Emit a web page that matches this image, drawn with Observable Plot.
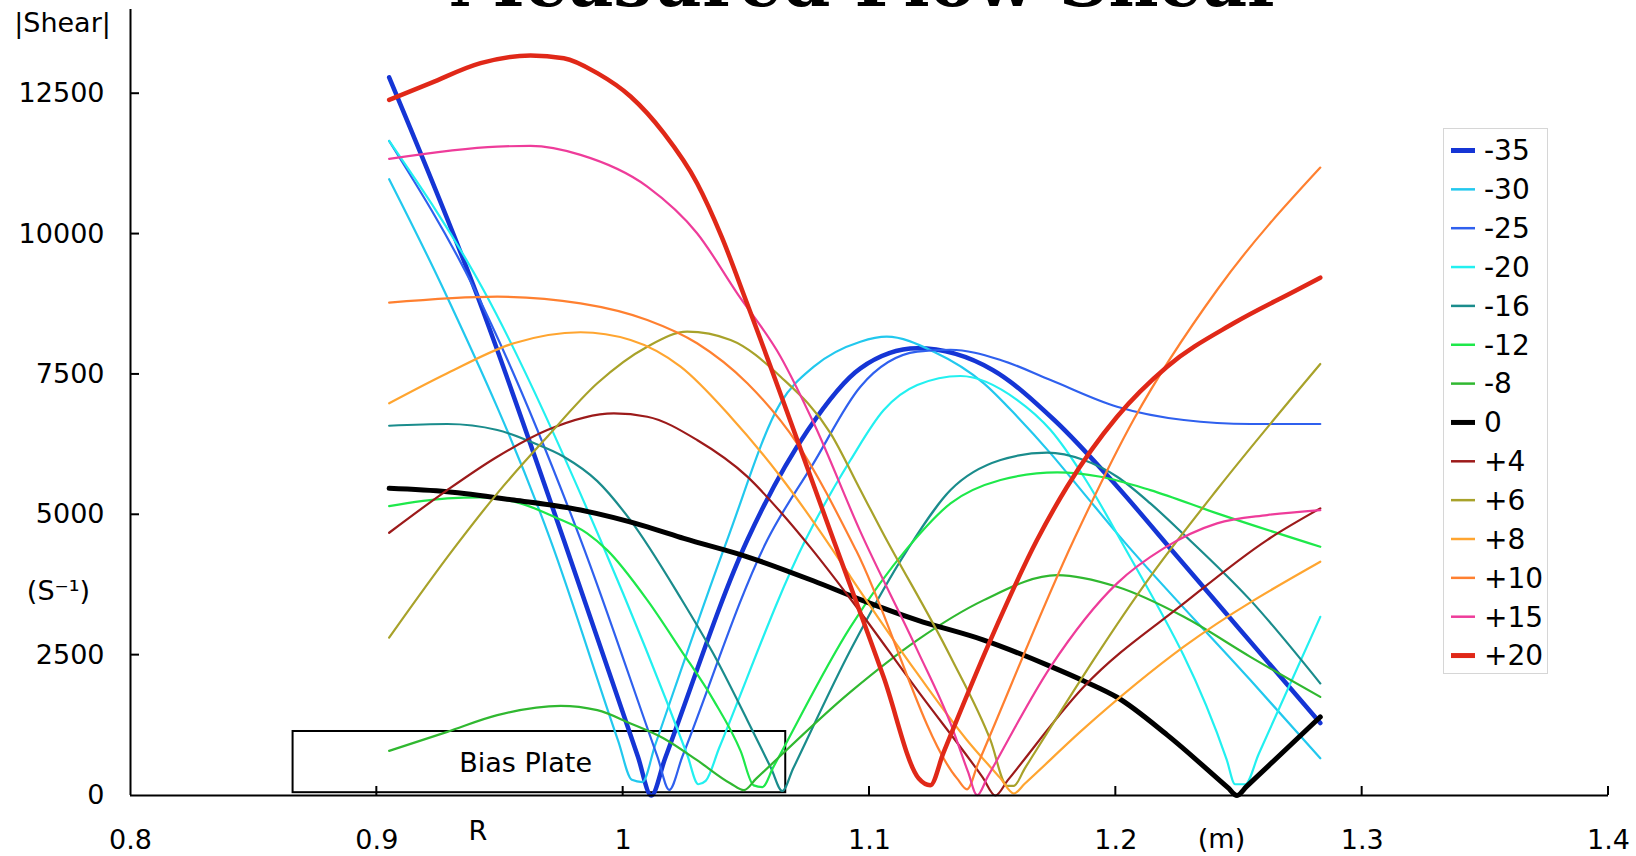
<!DOCTYPE html>
<html><head><meta charset="utf-8">
<script src="https://cdn.jsdelivr.net/npm/d3@7"></script>
<script src="https://cdn.jsdelivr.net/npm/@observablehq/plot@0.6"></script>
<style>
html,body{margin:0;padding:0;background:#fff;overflow:hidden}
#wrap{position:relative;width:1636px;height:856px;background:#fff}
#wrap svg{display:block}
</style></head>
<body><div id="wrap"></div>
<script>
// ---------- data ----------
const titleText = "Measured Flow Shear";
const seriesNames = ["-35","-30","-25","-20","-16","-12","-8","0","+4","+6","+8","+10","+15","+20"];
const xTickValues = [0.9, 1, 1.1, 1.2, 1.3, 1.4];
const xLabelValues = [0.8, 0.9, 1, 1.1, 1.2, 1.3, 1.4];
const xTickLabels = ["0.8","0.9","1","1.1","1.2","1.3","1.4"];
const yTickValues = [2500, 5000, 7500, 10000, 12500];
const yLabelValues = [0, 2500, 5000, 7500, 10000, 12500];
const yTickLabels = ["0","2500","5000","7500","10000","12500"];

const m35 = [[0.905,12790],[0.9408,8900],[0.9759,4550],[1.006,690],[1.0114,0],[1.017,660],[1.0504,4550],[1.075,6510],[1.0963,7609],[1.1194,7965],[1.15,7579],[1.175,6688],[1.2,5530],[1.225,4252],[1.25,2976],[1.283,1290]];
const m30 = [[0.905,10977],[0.9272,9004],[0.9705,4550],[0.998,970],[1.0035,280],[1.0078,240],[1.013,900],[1.0422,4550],[1.0639,6994],[1.0774,7638],[1.0963,8083],[1.107,8173],[1.1261,7905],[1.1464,7342],[1.16,6747],[1.1735,6094],[1.187,5382],[1.2005,4669],[1.2546,2057],[1.283,664]];
const m25 = [[0.905,11658],[0.9398,9004],[0.9828,4550],[1.014,680],[1.0187,100],[1.024,690],[1.0585,4550],[1.0773,5921],[1.0963,7282],[1.1194,7905],[1.1329,7940],[1.1532,7757],[1.1735,7400],[1.2005,6925],[1.2276,6688],[1.2546,6617],[1.283,6617]];
const m20 = [[0.905,11658],[0.9433,9004],[0.9908,4550],[1.026,726],[1.0305,200],[1.0335,260],[1.039,850],[1.074,4550],[1.0923,5975],[1.1058,6866],[1.1194,7311],[1.1369,7472],[1.16,7044],[1.1735,6510],[1.187,5678],[1.2019,4550],[1.245,640],[1.2484,200],[1.2525,200],[1.258,740],[1.283,3183]];
const m16 = [[0.905,6586],[0.9286,6617],[0.9489,6510],[0.9624,6301],[0.9759,6034],[0.9895,5600],[1.003,4900],[1.0233,3520],[1.0368,2510],[1.0504,1342],[1.06,490],[1.0646,80],[1.069,480],[1.0923,2590],[1.1153,4371],[1.1329,5440],[1.1532,5975],[1.1721,6106],[1.187,5975],[1.2005,5678],[1.214,5203],[1.2276,4650],[1.2546,3480],[1.283,1996]];
const m12 = [[0.905,5155],[0.9286,5292],[0.9421,5310],[0.9583,5203],[0.9719,4965],[0.9854,4669],[0.9935,4371],[1.0098,3480],[1.0233,2600],[1.0368,1690],[1.0477,790],[1.053,180],[1.0565,150],[1.061,510],[1.0923,3004],[1.1153,4401],[1.1329,5203],[1.1532,5619],[1.1762,5756],[1.1938,5678],[1.214,5440],[1.2411,5025],[1.283,4430]];
const m8 = [[0.905,795],[0.9286,1134],[0.9489,1431],[0.9746,1597],[0.9895,1520],[1.003,1283],[1.0165,1016],[1.03,629],[1.0436,214],[1.049,95],[1.054,300],[1.0923,1846],[1.1194,2768],[1.1464,3480],[1.1762,3926],[1.2005,3717],[1.2276,3183],[1.2546,2470],[1.283,1757]];
const z0 = [[0.905,5471],[0.9286,5410],[0.9556,5262],[0.9827,5084],[1.0098,4786],[1.0246,4580],[1.0504,4252],[1.0774,3820],[1.0963,3490],[1.1194,3124],[1.1464,2768],[1.1735,2300],[1.187,2040],[1.2005,1750],[1.2208,1080],[1.2455,140],[1.2492,0],[1.253,157],[1.283,1400]];
const p4 = [[0.905,4680],[0.9286,5440],[0.9489,6034],[0.9692,6510],[0.9962,6807],[1.0098,6747],[1.03,6332],[1.0504,5680],[1.0639,5050],[1.076,4420],[1.0923,3500],[1.12,1840],[1.146,320],[1.1511,0],[1.156,264],[1.187,1936],[1.2276,3421],[1.2614,4550],[1.283,5114]];
const p6 = [[0.905,2812],[0.9313,4401],[0.9489,5382],[0.9692,6390],[0.9895,7342],[1.0098,7994],[1.026,8261],[1.0436,8113],[1.0639,7459],[1.0842,6451],[1.0963,5440],[1.105,4713],[1.1329,2470],[1.1491,985],[1.1559,172],[1.1586,172],[1.163,480],[1.214,3900],[1.2411,5450],[1.283,7686]];
const p8 = [[0.905,6985],[0.9286,7520],[0.9556,8055],[0.9827,8251],[1.003,8113],[1.0233,7638],[1.0436,6747],[1.0639,5678],[1.0842,4430],[1.0923,3896],[1.1194,2174],[1.1396,985],[1.153,315],[1.1586,36],[1.163,210],[1.187,1190],[1.2276,2650],[1.283,4163]];
const p10 = [[0.905,8778],[0.9489,8885],[0.9827,8767],[1.0098,8470],[1.03,8055],[1.0504,7342],[1.0706,6273],[1.0945,4371],[1.1356,300],[1.1396,110],[1.144,560],[1.1829,4550],[1.2073,6700],[1.2411,9004],[1.283,11184]];
const p15 = [[0.905,11339],[0.9489,11558],[0.9624,11570],[0.9827,11410],[1.0098,10845],[1.03,10015],[1.0463,8945],[1.0639,7816],[1.0774,6629],[1.0963,4700],[1.1194,2589],[1.1329,1283],[1.14,420],[1.1437,5],[1.148,336],[1.1735,2292],[1.2005,3778],[1.2194,4401],[1.2411,4847],[1.2614,4995],[1.283,5084]];
const p20 = [[0.905,12390],[0.9218,12688],[0.9421,13044],[0.9624,13180],[0.9759,13133],[0.9895,12866],[1.003,12450],[1.0165,11797],[1.03,10906],[1.04,9950],[1.05,8800],[1.0869,4371],[1.1058,2100],[1.12,303],[1.1247,184],[1.13,760],[1.1491,2768],[1.168,4550],[1.1802,5499],[1.2005,6747],[1.2208,7638],[1.2478,8411],[1.2735,9004],[1.283,9224]];
const seriesData = [m35, m30, m25, m20, m16, m12, m8, z0, p4, p6, p8, p10, p15, p20];

const biasPlate = [{x1: 0.866, x2: 1.066, y1: 50, y2: 1140}];
const biasLabel = [{x: 0.9604, y: 580, text: "Bias Plate"}];
const axisLabels = {yTop: "|Shear|", yUnit: "(S\u207B\u00B9)", xName: "R", xUnit: "(m)"};

// ---------- styles ----------
const seriesColors = ["#1535d5","#22c8ee","#2f60ee","#22f0f0","#1a8c8c","#1ee84a","#30b830","#000000","#9c1a1a","#a8a22a","#ffa530","#ff8030","#ee3c9a","#e02818"];
const seriesWidths = [4.5,2.2,2.2,2.2,2.2,2.2,2.2,5,2.2,2.2,2.2,2.2,2.2,4.5];
const FONT = "DejaVu Sans";
const FS = 27;
const TICK = 9;

const rows = seriesData.flatMap((pts, i) => pts.map(([x, y]) => ({series: seriesNames[i], x, y})));
const fmtX = d => xTickLabels[xLabelValues.indexOf(d)];
const fmtY = d => yTickLabels[yLabelValues.indexOf(d)];

const plot = Plot.plot({
  width: 1636, height: 856,
  marginLeft: 130, marginRight: 28, marginTop: 9, marginBottom: 61,
  x: {domain: [0.8, 1.4], axis: null},
  y: {domain: [0, 14000], axis: null},
  style: {fontFamily: FONT, fontSize: FS + "px", background: "white", color: "black"},
  marks: [
    Plot.rect(biasPlate, {x1: "x1", x2: "x2", y1: "y1", y2: "y2", fill: "none", stroke: "black", strokeWidth: 2}),
    Plot.text(biasLabel, {x: "x", y: "y", text: "text", fontSize: FS, fill: "black"}),
    ...seriesNames.map((name, i) => Plot.line(rows.filter(r => r.series === name), {
      x: "x", y: "y", stroke: seriesColors[i], strokeWidth: seriesWidths[i], curve: "monotone-x", strokeLinejoin: "round"
    })),
    Plot.ruleY([0], {x1: 0.8, x2: 1.4, stroke: "black", strokeWidth: 2}),
    Plot.ruleX([0.8], {y1: 0, y2: 14000, stroke: "black", strokeWidth: 2}),
    Plot.axisX(xLabelValues, {tickSize: 0, tickPadding: 34, tickFormat: fmtX, fontSize: FS, label: null}),
    Plot.axisY(yLabelValues, {tickSize: 0, tickPadding: 26, tickFormat: fmtY, fontSize: FS, label: null}),
    Plot.text([axisLabels.yTop], {frameAnchor: "top-left", textAnchor: "middle", lineAnchor: "middle", dx: -68, dy: 14, text: d => d, fontSize: FS, fill: "black"}),
    Plot.text([axisLabels.yUnit], {x: 0.8, y: 3640, dx: -72, text: d => d, fontSize: FS, fill: "black"}),
    Plot.text([axisLabels.xName], {x: 0.941, y: 0, dy: 36, text: d => d, fontSize: FS, fill: "black"}),
    Plot.text([axisLabels.xUnit], {x: 1.2429, y: 0, dy: 44, text: d => d, fontSize: FS, fill: "black"})
  ]
});
const wrap = document.getElementById("wrap");
wrap.appendChild(plot);

// ---------- inward ticks, placed with Plot's own scales ----------
const xs = plot.scale("x"), ys = plot.scale("y");
const tg = d3.select(plot).append("g").attr("stroke", "black").attr("stroke-width", 2);
const y0 = ys.apply(0), x0 = xs.apply(0.8);
xTickValues.forEach(v => {
  const px = xs.apply(v);
  tg.append("line").attr("x1", px).attr("x2", px).attr("y1", y0).attr("y2", y0 - TICK);
});
yTickValues.forEach(v => {
  const py = ys.apply(v);
  tg.append("line").attr("x1", x0).attr("x2", x0 + TICK).attr("y1", py).attr("y2", py);
});

// ---------- title (mostly cropped at top, as in the reference) ----------
const tsvg = d3.select(wrap).append("svg")
  .attr("width", 1636).attr("height", 40)
  .style("position", "absolute").style("left", "0px").style("top", "0px").style("overflow", "visible");
const tt = tsvg.append("text").attr("x", 866).attr("y", 5.5).attr("text-anchor", "middle")
  .attr("font-family", "DejaVu Serif").attr("font-weight", "bold").attr("font-size", 70).text(titleText);
const tw = tt.node().getComputedTextLength();
if (tw > 0) tt.attr("font-size", 70 * 835 / tw);

// ---------- legend ----------
const lg = d3.select(wrap).append("svg")
  .attr("width", 106).attr("height", 547)
  .style("position", "absolute").style("left", "1443px").style("top", "128px");
lg.append("rect").attr("x", 0.5).attr("y", 0.5).attr("width", 104).attr("height", 545)
  .attr("fill", "white").attr("stroke", "#d6d6d6").attr("stroke-width", 1);
seriesNames.forEach((name, i) => {
  const cy = 22.5 + i * 38.85;
  lg.append("line").attr("x1", 8).attr("x2", 32).attr("y1", cy).attr("y2", cy)
    .attr("stroke", seriesColors[i]).attr("stroke-width", seriesWidths[i] > 3 ? 5 : 2.5);
  lg.append("text").attr("x", 41).attr("y", cy + 0.365 * FS).attr("font-family", FONT)
    .attr("font-size", FS + 1).attr("fill", "black").text(name);
});
</script>
</body></html>
